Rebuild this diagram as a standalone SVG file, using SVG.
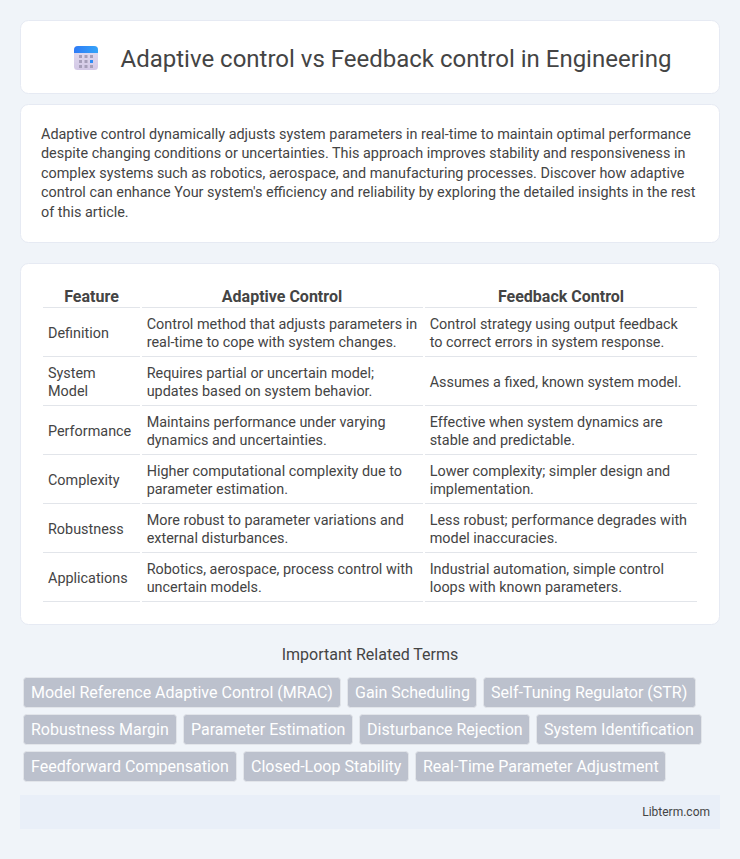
<svg xmlns="http://www.w3.org/2000/svg" width="740" height="859" viewBox="0 0 740 859">
<defs>
<linearGradient id="cal" x1="0" y1="0" x2="0" y2="1"><stop offset="0" stop-color="#e4def0"/><stop offset="1" stop-color="#d3c8e6"/></linearGradient>
<linearGradient id="calTop" x1="0" y1="0" x2="1" y2="0"><stop offset="0" stop-color="#2f7bf6"/><stop offset="1" stop-color="#35a4f8"/></linearGradient>
</defs>
<style>
text{font-family:Roboto,"Liberation Sans",sans-serif;fill:#444}
.card{fill:#fff;stroke:#e6eaf3;stroke-width:1}
.body{font-size:14.4px}
.th{font-size:16px;font-weight:700;text-anchor:middle}
.td{font-size:14.4px}
.rule{stroke:#e2e5ea;stroke-width:1}
.chip{fill:#bcc1cd;stroke:#e2e5ea;stroke-width:1}
.chipt{font-size:16px;fill:#fff}
.dot{fill:#a79fba}
</style>
<rect width="740" height="859" fill="#f0f4f9"/>
<g id="header">
<rect class="card" x="20.5" y="20.5" width="699" height="73" rx="8"/>
<g id="icon">
<rect x="74" y="46" width="24" height="24" rx="3.500" fill="url(#cal)"/>
<path d="M74 53V50a4 4 0 0 1 4-4h16a4 4 0 0 1 4 4v3z" fill="url(#calTop)"/>
<g class="dot">
<rect x="79" y="55" width="3" height="3"/><rect x="84.500" y="55" width="3" height="3"/><rect x="90" y="55" width="3" height="3"/>
<rect x="79" y="60" width="3" height="3"/><rect x="84.500" y="60" width="3" height="3"/><rect x="90" y="60" width="3" height="3" fill="#2f8cf6"/>
<rect x="79" y="65" width="3" height="3"/><rect x="84.500" y="65" width="3" height="3"/><rect x="90" y="65" width="3" height="3"/>
</g>
</g>
<text x="120.500" y="67" font-size="24">Adaptive control vs Feedback control in Engineering</text>
</g>
<g id="intro">
<rect class="card" x="20.5" y="104.500" width="699" height="138" rx="8"/>
<text class="body" x="41" y="139">Adaptive control dynamically adjusts system parameters in real-time to maintain optimal performance</text>
<text class="body" x="41" y="158">despite changing conditions or uncertainties. This approach improves stability and responsiveness in</text>
<text class="body" x="41" y="178">complex systems such as robotics, aerospace, and manufacturing processes. Discover how adaptive</text>
<text class="body" x="41" y="197">control can enhance Your system's efficiency and reliability by exploring the detailed insights in the rest</text>
<text class="body" x="41" y="217">of this article.</text>
</g>
<g id="table">
<rect class="card" x="20.5" y="263.500" width="699" height="361" rx="8"/>
<text class="th" x="91.500" y="302">Feature</text>
<text class="th" x="282" y="302">Adaptive Control</text>
<text class="th" x="561" y="302">Feedback Control</text>
<g class="rule">
<path d="M43 307.500H140M142 307.500H423M425 307.500H697"/>
<path d="M43 356.500H140M142 356.500H423M425 356.500H697"/>
<path d="M43 405.500H140M142 405.500H423M425 405.500H697"/>
<path d="M43 454.500H140M142 454.500H423M425 454.500H697"/>
<path d="M43 503.500H140M142 503.500H423M425 503.500H697"/>
<path d="M43 552.500H140M142 552.500H423M425 552.500H697"/>
<path d="M43 601.500H140M142 601.500H423M425 601.500H697"/>
</g>
<g class="td">
<text x="48" y="338">Definition</text>
<text x="146.700" y="329">Control method that adjusts parameters in</text>
<text x="146.700" y="347">real-time to cope with system changes.</text>
<text x="429.700" y="329">Control strategy using output feedback</text>
<text x="429.700" y="347">to correct errors in system response.</text>
<text x="48" y="378">System</text>
<text x="48" y="396">Model</text>
<text x="146.700" y="378">Requires partial or uncertain model;</text>
<text x="146.700" y="396">updates based on system behavior.</text>
<text x="429.700" y="387">Assumes a fixed, known system model.</text>
<text x="48" y="436">Performance</text>
<text x="146.700" y="427">Maintains performance under varying</text>
<text x="146.700" y="445">dynamics and uncertainties.</text>
<text x="429.700" y="427">Effective when system dynamics are</text>
<text x="429.700" y="445">stable and predictable.</text>
<text x="48" y="485">Complexity</text>
<text x="146.700" y="476">Higher computational complexity due to</text>
<text x="146.700" y="494">parameter estimation.</text>
<text x="429.700" y="476">Lower complexity; simpler design and</text>
<text x="429.700" y="494">implementation.</text>
<text x="48" y="534">Robustness</text>
<text x="146.700" y="525">More robust to parameter variations and</text>
<text x="146.700" y="543">external disturbances.</text>
<text x="429.700" y="525">Less robust; performance degrades with</text>
<text x="429.700" y="543">model inaccuracies.</text>
<text x="48" y="583">Applications</text>
<text x="146.700" y="574">Robotics, aerospace, process control with</text>
<text x="146.700" y="592">uncertain models.</text>
<text x="429.700" y="574">Industrial automation, simple control</text>
<text x="429.700" y="592">loops with known parameters.</text>
</g>
</g>
<g id="related">
<text x="370" y="660" font-size="16" text-anchor="middle">Important Related Terms</text>
<g id="chip-1"><rect class="chip" x="23.500" y="677.500" width="317" height="30" rx="3"/><text class="chipt" x="31" y="698">Model Reference Adaptive Control (MRAC)</text></g>
<g id="chip-2"><rect class="chip" x="347.500" y="677.500" width="129" height="30" rx="3"/><text class="chipt" x="355" y="698">Gain Scheduling</text></g>
<g id="chip-3"><rect class="chip" x="483.500" y="677.500" width="212" height="30" rx="3"/><text class="chipt" x="491" y="698">Self-Tuning Regulator (STR)</text></g>
<g id="chip-4"><rect class="chip" x="23.500" y="714.500" width="153" height="30" rx="3"/><text class="chipt" x="31" y="735">Robustness Margin</text></g>
<g id="chip-5"><rect class="chip" x="183.500" y="714.500" width="169" height="30" rx="3"/><text class="chipt" x="191" y="735">Parameter Estimation</text></g>
<g id="chip-6"><rect class="chip" x="359.500" y="714.500" width="170" height="30" rx="3"/><text class="chipt" x="367" y="735">Disturbance Rejection</text></g>
<g id="chip-7"><rect class="chip" x="536.500" y="714.500" width="165" height="30" rx="3"/><text class="chipt" x="544" y="735">System Identification</text></g>
<g id="chip-8"><rect class="chip" x="23.500" y="751.500" width="213" height="30" rx="3"/><text class="chipt" x="31" y="772">Feedforward Compensation</text></g>
<g id="chip-9"><rect class="chip" x="243.500" y="751.500" width="165" height="30" rx="3"/><text class="chipt" x="251" y="772">Closed-Loop Stability</text></g>
<g id="chip-10"><rect class="chip" x="415.500" y="751.500" width="250" height="30" rx="3"/><text class="chipt" x="423" y="772">Real-Time Parameter Adjustment</text></g>
</g>
<g id="footer">
<rect x="20" y="795" width="700" height="34" fill="#e9eff8"/>
<text x="710" y="816" font-size="12" text-anchor="end">Libterm.com</text>
</g>
</svg>
